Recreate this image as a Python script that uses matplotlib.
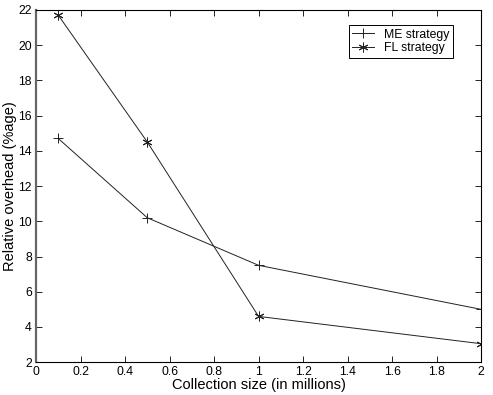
import numpy as np
import matplotlib
matplotlib.use('Agg')
import matplotlib.pyplot as plt

plt.rcParams['font.family'] = ['Liberation Sans', 'DejaVu Sans']

sizes = [0.1, 0.5, 1, 2]
me_overhead = [14.7, 10.2, 7.5, 5.0]
fl_overhead = [21.7, 14.5, 4.6, 3.05]

fig = plt.figure(figsize=(4.93, 3.95), dpi=100)
ax = fig.add_axes((0.073, 0.083, 0.903, 0.892))

ax.plot(sizes, me_overhead, color='#222222', lw=0.7, marker='+', ms=7, mew=0.7, label='ME strategy')
ax.plot(sizes, fl_overhead, color='#222222', lw=0.7, marker=(6, 2, 0), ms=7, mew=0.7,
        label='FL strategy')

ax.set_xlim(0, 2)
ax.set_ylim(2, 22)
ax.set_xticks(np.arange(0, 2.01, 0.2))
ax.set_xticklabels(['0', '0.2', '0.4', '0.6', '0.8', '1', '1.2', '1.4', '1.6', '1.8', '2'])
ax.set_yticks(np.arange(2, 23, 2))
ax.tick_params(direction='in', top=True, right=True, length=4, width=0.6, labelsize=8.8, pad=3)
for s in ax.spines.values():
    s.set_linewidth(0.8)
ax.spines['left'].set_linewidth(1.6)
ax.spines['left'].set_color('#666666')

ax.set_xlabel('Collection size (in millions)', fontsize=10.5, labelpad=0)
ax.set_ylabel('Relative overhead (%age)', fontsize=10.5, labelpad=1)

leg = ax.legend(loc='upper right', bbox_to_anchor=(0.919, 0.937), bbox_transform=fig.transFigure,
                fontsize=8.8, fancybox=False, framealpha=1, edgecolor='black',
                handlelength=1.8, handletextpad=0.8, borderpad=0.3, labelspacing=0.15,
                borderaxespad=0)
leg.get_frame().set_linewidth(0.7)

fig.savefig('out.png', dpi=100)
